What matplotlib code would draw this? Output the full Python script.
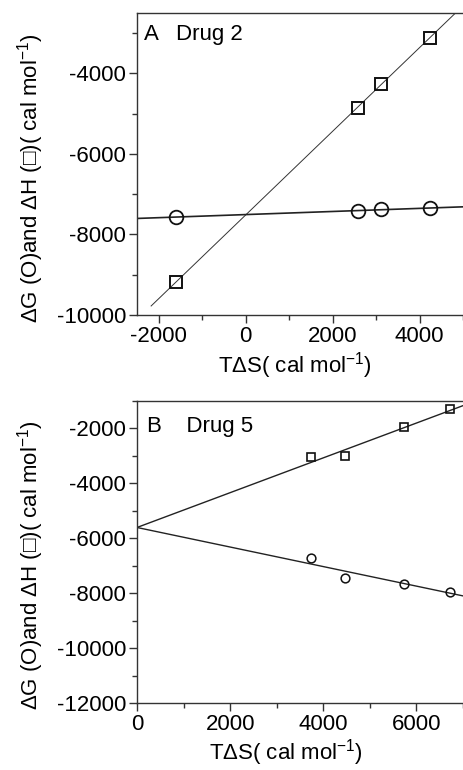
import numpy as np
import matplotlib
matplotlib.use("Agg")
import matplotlib.pyplot as plt
from matplotlib.ticker import MultipleLocator

plt.rcParams['font.family'] = ['Liberation Sans', 'DejaVu Sans']
plt.rcParams['mathtext.fontset'] = 'custom'
plt.rcParams['mathtext.rm'] = 'Liberation Sans'
plt.rcParams['mathtext.it'] = 'Liberation Sans:italic'
plt.rcParams['mathtext.bf'] = 'Liberation Sans:bold'
plt.rcParams['axes.unicode_minus'] = False

# Panel A: Drug 2
a_tds = [-1600, 2580, 3110, 4236]
a_dH = [-9180, -4855, -4274, -3128]
a_dG = [-7562, -7420, -7370, -7354]
a_fitH = (1.039, -7516)   # slope, intercept
a_fitG = (0.0385, -7506)
a_fitH_start = -2175

# Panel B: Drug 5
b_tds = [3736, 4464, 5736, 6729]
b_dH = [-3043, -3006, -1963, -1288]
b_dG = [-6724, -7448, -7656, -7939]
b_fitH = (0.634, -5607)
b_fitG = (-0.356, -5607)

ylabel = "ΔG (O)and ΔH (□)( cal mol$\\mathregular{^{-1}}$)"
xlabel = "TΔS( cal mol$\\mathregular{^{-1}}$)"

fig = plt.figure(figsize=(4.63, 7.70), dpi=100)
W, H = 463, 770
FS = 16

def make_ax(top_px, bottom_px):
    ax = fig.add_axes([137 / W, 1 - bottom_px / H, 1 - 137 / W, (bottom_px - top_px) / H])
    ax.spines['right'].set_visible(False)
    for s in ['left', 'bottom', 'top']:
        ax.spines[s].set_linewidth(1.0)
        ax.spines[s].set_color('#333333')
    ax.tick_params(which='major', direction='out', length=6, width=1.0, labelsize=FS, pad=2, color='#333333')
    ax.tick_params(which='minor', direction='out', length=3.5, width=1.0, color='#333333')
    ax.tick_params(top=False, right=False)
    ax.set_ylabel(ylabel, fontsize=FS)
    ax.set_xlabel(xlabel, fontsize=FS)
    return ax

# Panel A
ax1 = make_ax(13, 315)
ax1.set_xlim(-2500, 5000)
ax1.set_ylim(-10000, -2500)
ax1.xaxis.set_major_locator(MultipleLocator(2000))
ax1.xaxis.set_minor_locator(MultipleLocator(1000))
ax1.yaxis.set_major_locator(MultipleLocator(2000))
ax1.yaxis.set_minor_locator(MultipleLocator(1000))
xh = np.array([a_fitH_start, 5000])
ax1.plot(xh, a_fitH[0] * xh + a_fitH[1], color='#333333', lw=0.7)
xg = np.array([-2500, 5000])
ax1.plot(xg, a_fitG[0] * xg + a_fitG[1], color='#222222', lw=1.2)
ax1.plot(a_tds, a_dH, ls='none', marker='s', ms=9.2, mfc='none', mec='#111111', mew=1.4)
ax1.plot(a_tds, a_dG, ls='none', marker='o', ms=9.8, mfc='none', mec='#111111', mew=1.3)
ax1.text(0.02, 0.93, "A   Drug 2", transform=ax1.transAxes, fontsize=FS, va='center', ha='left')
ax1.yaxis.set_label_coords(-0.28, 0.454)
ax1.xaxis.set_label_coords(0.485, -0.115)

# Panel B
ax2 = make_ax(401, 703)
ax2.set_xlim(0, 7000)
ax2.set_ylim(-12000, -1000)
ax2.xaxis.set_major_locator(MultipleLocator(2000))
ax2.xaxis.set_minor_locator(MultipleLocator(1000))
ax2.yaxis.set_major_locator(MultipleLocator(2000))
ax2.yaxis.set_minor_locator(MultipleLocator(1000))
xb = np.array([0, 7000])
ax2.plot(xb, b_fitH[0] * xb + b_fitH[1], color='#222222', lw=1.0)
ax2.plot(xb, b_fitG[0] * xb + b_fitG[1], color='#222222', lw=1.0)
ax2.plot(b_tds, b_dH, ls='none', marker='s', ms=6, mfc='none', mec='#111111', mew=1.2)
ax2.plot(b_tds, b_dG, ls='none', marker='o', ms=6.3, mfc='none', mec='#111111', mew=1.1)
ax2.text(0.03, 0.915, "B    Drug 5", transform=ax2.transAxes, fontsize=FS, va='center', ha='left')
ax2.yaxis.set_label_coords(-0.28, 0.455)
ax2.xaxis.set_label_coords(0.457, -0.112)

fig.savefig("out.png", dpi=100)
